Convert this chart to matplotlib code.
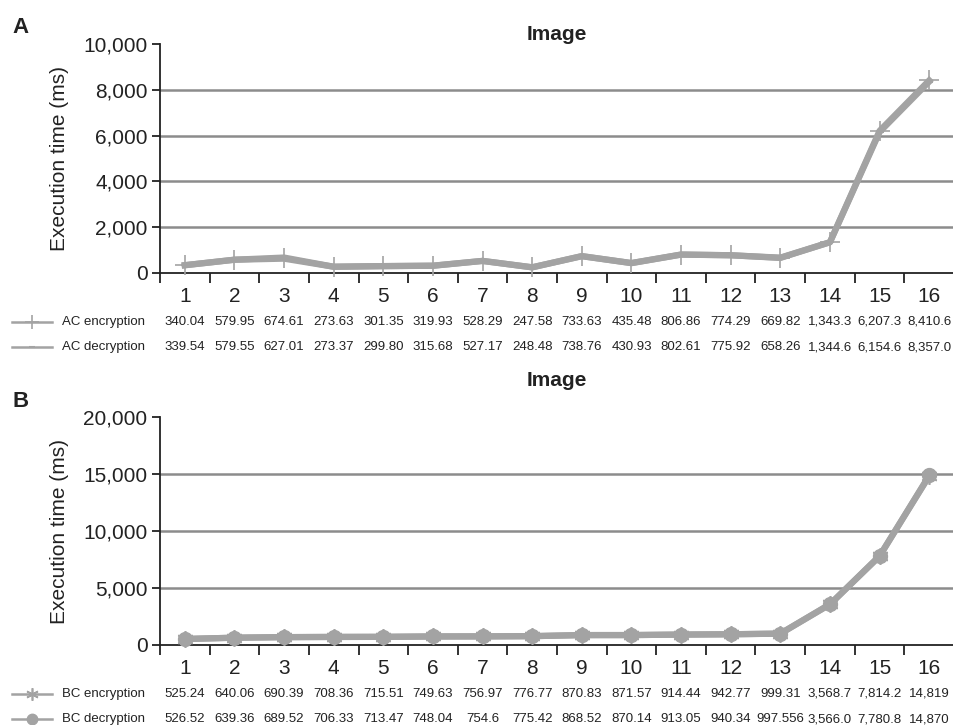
import matplotlib
matplotlib.use("Agg")
import matplotlib.pyplot as plt
from matplotlib.lines import Line2D
from matplotlib.ticker import FuncFormatter
import numpy as np

plt.rcParams["font.family"] = ["Liberation Sans", "DejaVu Sans"]

IMAGES = list(range(1, 17))

AC_ENC = [340.04, 579.95, 674.61, 273.63, 301.35, 319.93, 528.29, 247.58,
          733.63, 435.48, 806.86, 774.29, 669.82, 1343.3, 6207.3, 8410.6]
AC_DEC = [339.54, 579.55, 627.01, 273.37, 299.80, 315.68, 527.17, 248.48,
          738.76, 430.93, 802.61, 775.92, 658.26, 1344.6, 6154.6, 8357.0]
AC_ENC_TXT = ["340.04", "579.95", "674.61", "273.63", "301.35", "319.93", "528.29", "247.58",
              "733.63", "435.48", "806.86", "774.29", "669.82", "1,343.3", "6,207.3", "8,410.6"]
AC_DEC_TXT = ["339.54", "579.55", "627.01", "273.37", "299.80", "315.68", "527.17", "248.48",
              "738.76", "430.93", "802.61", "775.92", "658.26", "1,344.6", "6,154.6", "8,357.0"]

BC_ENC = [525.24, 640.06, 690.39, 708.36, 715.51, 749.63, 756.97, 776.77,
          870.83, 871.57, 914.44, 942.77, 999.31, 3568.7, 7814.2, 14819]
BC_DEC = [526.52, 639.36, 689.52, 706.33, 713.47, 748.04, 754.6, 775.42,
          868.52, 870.14, 913.05, 940.34, 997.556, 3566.0, 7780.8, 14870]
BC_ENC_TXT = ["525.24", "640.06", "690.39", "708.36", "715.51", "749.63", "756.97", "776.77",
              "870.83", "871.57", "914.44", "942.77", "999.31", "3,568.7", "7,814.2", "14,819"]
BC_DEC_TXT = ["526.52", "639.36", "689.52", "706.33", "713.47", "748.04", "754.6", "775.42",
              "868.52", "870.14", "913.05", "940.34", "997.556", "3,566.0", "7,780.8", "14,870"]

LINE_C = "#a3a3a3"
GRID_C = "#8c8c8c"
W, H = 954, 725


def panel(fig, top_px, bottom_px, title, title_pad, ymax, ystep, series, letter, letter_y):
    ax = fig.add_axes([160 / W, 1 - bottom_px / H, 794 / W, (bottom_px - top_px) / H])
    x = np.array(IMAGES)
    yt = np.arange(0, ymax + 1, ystep)
    for y in yt[1:-1]:
        ax.axhline(y, color=GRID_C, lw=1.8, zorder=1)
    for vals, _, _, mk, ms, mew in series:
        ax.plot(x, vals, color=LINE_C, lw=4.5, marker=mk, ms=ms, mew=mew,
                mec=LINE_C, mfc=LINE_C, zorder=3, clip_on=False)
    ax.set_xlim(0.5, 16.5)
    ax.set_ylim(0, ymax)
    ax.set_yticks(yt)
    ax.yaxis.set_major_formatter(FuncFormatter(lambda v, p: f"{int(v):,}"))
    ax.set_xticks(np.arange(0.5, 17, 1))
    ax.set_xticklabels([])
    ax.set_xticks(x, minor=True)
    ax.set_xticklabels([str(i) for i in IMAGES], minor=True)
    ax.tick_params(axis="x", which="major", direction="out", length=7, width=1.3, color="#222222")
    ax.tick_params(axis="x", which="minor", length=0, pad=10, labelsize=15, labelcolor="#222222")
    ax.tick_params(axis="y", direction="out", length=6, width=1.3, color="#222222",
                   labelsize=15, labelcolor="#222222", pad=3)
    for s in ["top", "right"]:
        ax.spines[s].set_visible(False)
    for s in ["left", "bottom"]:
        ax.spines[s].set_linewidth(1.3)
        ax.spines[s].set_color("#222222")
    ax.set_ylabel("Execution time (ms)", fontsize=15, color="#222222")
    ax.yaxis.set_label_coords(-0.115, 0.5)
    ax.set_title(title, fontsize=15, fontweight="bold", pad=title_pad, color="#222222")

    # data table below the axis
    row_y = [bottom_px + 49, bottom_px + 74]
    for (vals, lab, txts, mk, ms, mew), ry in zip(series, row_y):
        yf = 1 - ry / H
        for xi, t in zip(x, txts):
            ax.text(xi, 1 - (ry - top_px) / (bottom_px - top_px), t, transform=ax.get_xaxis_transform(),
                    ha="center", va="center", fontsize=9.5, color="#222222")
        fig.add_artist(Line2D([12 / W, 52 / W], [yf, yf], color=LINE_C, lw=1.8))
        fig.add_artist(Line2D([32 / W], [yf], color=LINE_C, marker=mk, ms=ms * 0.75,
                              mew=mew, mec=LINE_C, mfc=LINE_C, lw=0))
        fig.text(62 / W, yf, lab, ha="left", va="center", fontsize=9.5, color="#222222")

    fig.text(12 / W, 1 - letter_y / H, letter, ha="left", va="baseline",
             fontsize=16, fontweight="bold", color="#222222")
    return ax


def main() -> None:
    fig = plt.figure(figsize=(9.54, 7.25), dpi=100)

    panel(fig, 44, 273, "Image", 3, 10000, 2000,
          [(AC_ENC, "AC encryption", AC_ENC_TXT, "+", 14, 1.2),
           (AC_DEC, "AC decryption", AC_DEC_TXT, "_", 6, 1.5)],
          "A", 33)
    panel(fig, 417, 645, "Image", 22, 20000, 5000,
          [(BC_ENC, "BC encryption", BC_ENC_TXT, (6, 2, 0), 12, 1.2),
           (BC_DEC, "BC decryption", BC_DEC_TXT, "o", 10, 1)],
          "B", 407)

    fig.savefig("out.png", dpi=100)


if __name__ == "__main__":
    main()
